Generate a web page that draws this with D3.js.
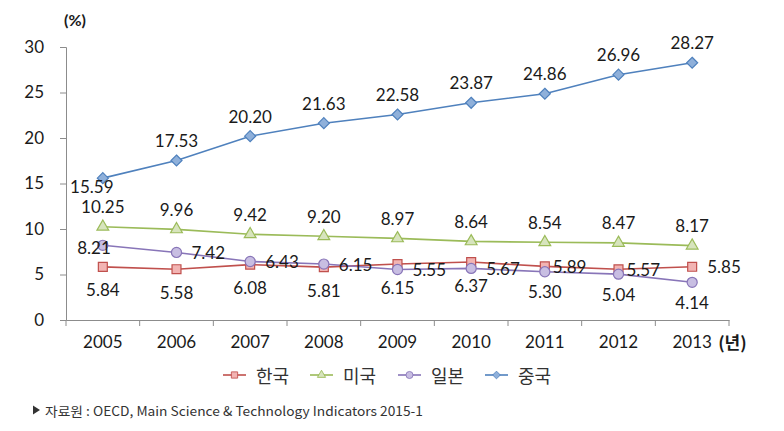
<!DOCTYPE html>
<html><head><meta charset="utf-8">
<script src="https://cdn.jsdelivr.net/npm/d3@7"></script>
<style>
body{margin:0;background:#fff;}
svg{display:block;}
</style></head>
<body>
<svg id="c" width="784" height="431"></svg>
<script>
const years = ["2005","2006","2007","2008","2009","2010","2011","2012","2013"];
const korea = [5.84,5.58,6.08,5.81,6.15,6.37,5.89,5.57,5.85];
const usa   = [10.25,9.96,9.42,9.20,8.97,8.64,8.54,8.47,8.17];
const japan = [8.21,7.42,6.43,6.15,5.55,5.67,5.30,5.04,4.14];
const china = [15.59,17.53,20.20,21.63,22.58,23.87,24.86,26.96,28.27];
const yTicks = [0,5,10,15,20,25,30];
// label placement per point: a=above, b=below, r=right, l=left, s=below-left (tight)
const koreaPos = ["b","b","b","b","b","b","r","r","r"];
const usaPos   = ["a","a","a","a","a","a","a","a","a"];
const japanPos = ["l","r","r","r","r","r","b","b","b"];
const chinaPos = ["s","a","a","a","a","a","a","a","a"];

const series = [
  {name:"한국", values:korea, pos:koreaPos, line:"#C0504D", fill:"#F2B4B3", shape:"square"},
  {name:"미국", values:usa, pos:usaPos, line:"#9BBB59", fill:"#D7E4BD", shape:"triangle"},
  {name:"일본", values:japan, pos:japanPos, line:"#8875B8", fill:"#C8BEE2", shape:"circle"},
  {name:"중국", values:china, pos:chinaPos, line:"#4F81BD", fill:"#8FB0DA", shape:"diamond"}
];

const svg = d3.select("#c");
const x = d3.scaleBand().domain(years).range([66,729]);
const y = d3.scaleLinear().domain([0,30]).range([320,47]);
const font = "Lato, 'Noto Sans', sans-serif";
const axisColor = "#8c8c8c";
const txt = "#1a1a1a";

// y axis
const ya = svg.append("g").attr("transform","translate(66,0)")
  .call(d3.axisLeft(y).tickValues(yTicks).tickSize(6).tickPadding(16).tickFormat(d3.format("d")));
ya.select(".domain").attr("stroke",axisColor);
ya.selectAll(".tick line").attr("stroke",axisColor);
ya.selectAll(".tick text").attr("font-family",font).attr("font-size",17).attr("fill",txt);

// x axis
const xa = svg.append("g").attr("transform","translate(0,320)")
  .call(d3.axisBottom(x).tickSize(0).tickPadding(16));
xa.select(".domain").attr("stroke",axisColor);
xa.selectAll(".tick text").attr("font-family",font).attr("font-size",17).attr("fill",txt);
// boundary ticks between categories
const bounds = years.map(d=>x(d)).concat([x.range()[1]]);
svg.append("g").selectAll("line").data(bounds).join("line")
  .attr("x1",d=>d).attr("x2",d=>d).attr("y1",320).attr("y2",326).attr("stroke",axisColor);

// unit labels
svg.append("text").attr("x",64).attr("y",26).text("(%)")
  .attr("font-family",font).attr("font-size",16).attr("font-weight","bold").attr("fill",txt);
svg.append("text").attr("x",x("2013")+x.bandwidth()/2+26).attr("y",349).text("(년)")
  .attr("font-family","'Noto Sans CJK KR', sans-serif").attr("font-size",17).attr("font-weight","bold").attr("fill",txt);

function markerPath(shape){
  if(shape==="square") return d3.symbol(d3.symbolSquare,80)();
  if(shape==="triangle") return d3.symbol(d3.symbolTriangle,60)();
  if(shape==="circle") return d3.symbol(d3.symbolCircle,80)();
  return "M0,-5.5L5.5,0L0,5.5L-5.5,0Z";
}

const cx = d => x(d)+x.bandwidth()/2;
const line = d3.line().x(d=>cx(d.year)).y(d=>y(d.v));

series.forEach(s=>{
  const pts = years.map((yr,i)=>({year:yr,v:s.values[i],pos:s.pos[i]}));
  svg.append("path").datum(pts).attr("d",line).attr("fill","none").attr("stroke",s.line).attr("stroke-width",1.6);
  svg.append("g").selectAll("path").data(pts).join("path")
    .attr("d",markerPath(s.shape))
    .attr("transform",d=>`translate(${cx(d.year)},${y(d.v)})`)
    .attr("fill",s.fill).attr("stroke",s.line).attr("stroke-width",1.2);
});

// data labels
series.forEach(s=>{
  const pts = years.map((yr,i)=>({year:yr,v:s.values[i],pos:s.pos[i]}));
  svg.append("g").selectAll("text").data(pts).join("text")
    .attr("font-family",font).attr("font-size",17).attr("fill",txt)
    .attr("dominant-baseline","central")
    .attr("text-anchor",d=>d.pos==="r"?"start":(d.pos==="l"?"end":"middle"))
    .attr("x",d=>{
      const px = cx(d.year);
      if(d.pos==="r") return px+ (s.name==="한국" && d.year!=="2013" ? 8 : 15);
      if(d.pos==="l") return px+8;
      if(d.pos==="s") return px-11;
      return px;
    })
    .attr("y",d=>{
      const py = y(d.v);
      if(d.pos==="a") return py-20;
      if(d.pos==="b") return py+ (s.name==="일본" ? 20 : 23);
      if(d.pos==="l") return py+2;
      if(d.pos==="s") return py+8;
      return py;
    })
    .text(d=>d3.format(".2f")(d.v));
});

// legend
const legend = svg.append("g").attr("transform","translate(0,375)");
const legX = [223,310,398,485];
series.forEach((s,i)=>{
  const g = legend.append("g").attr("transform",`translate(${legX[i]},0)`);
  g.append("line").attr("x1",0).attr("x2",23).attr("y1",0).attr("y2",0).attr("stroke",s.line).attr("stroke-width",1.6);
  g.append("path").attr("d",markerPath(s.shape)).attr("transform","translate(11.5,0) scale(0.7)")
    .attr("fill",s.fill).attr("stroke",s.line).attr("stroke-width",1.2);
  g.append("text").attr("x",33).attr("y",0).attr("dominant-baseline","central")
    .attr("font-family","'Noto Sans CJK KR', sans-serif").attr("font-size",18).attr("fill","#333").text(s.name);
});

// source
svg.append("path").attr("d","M33,405.5L40,410L33,414.5Z").attr("fill","#333");
svg.append("text").attr("x",45).attr("y",410).attr("dominant-baseline","central")
  .attr("font-family","'Noto Sans CJK KR', sans-serif").attr("font-size",13).attr("fill","#333")
  .attr("textLength",378).attr("lengthAdjust","spacingAndGlyphs")
  .text("자료원 : OECD, Main Science & Technology Indicators 2015-1");
</script>
</body></html>
